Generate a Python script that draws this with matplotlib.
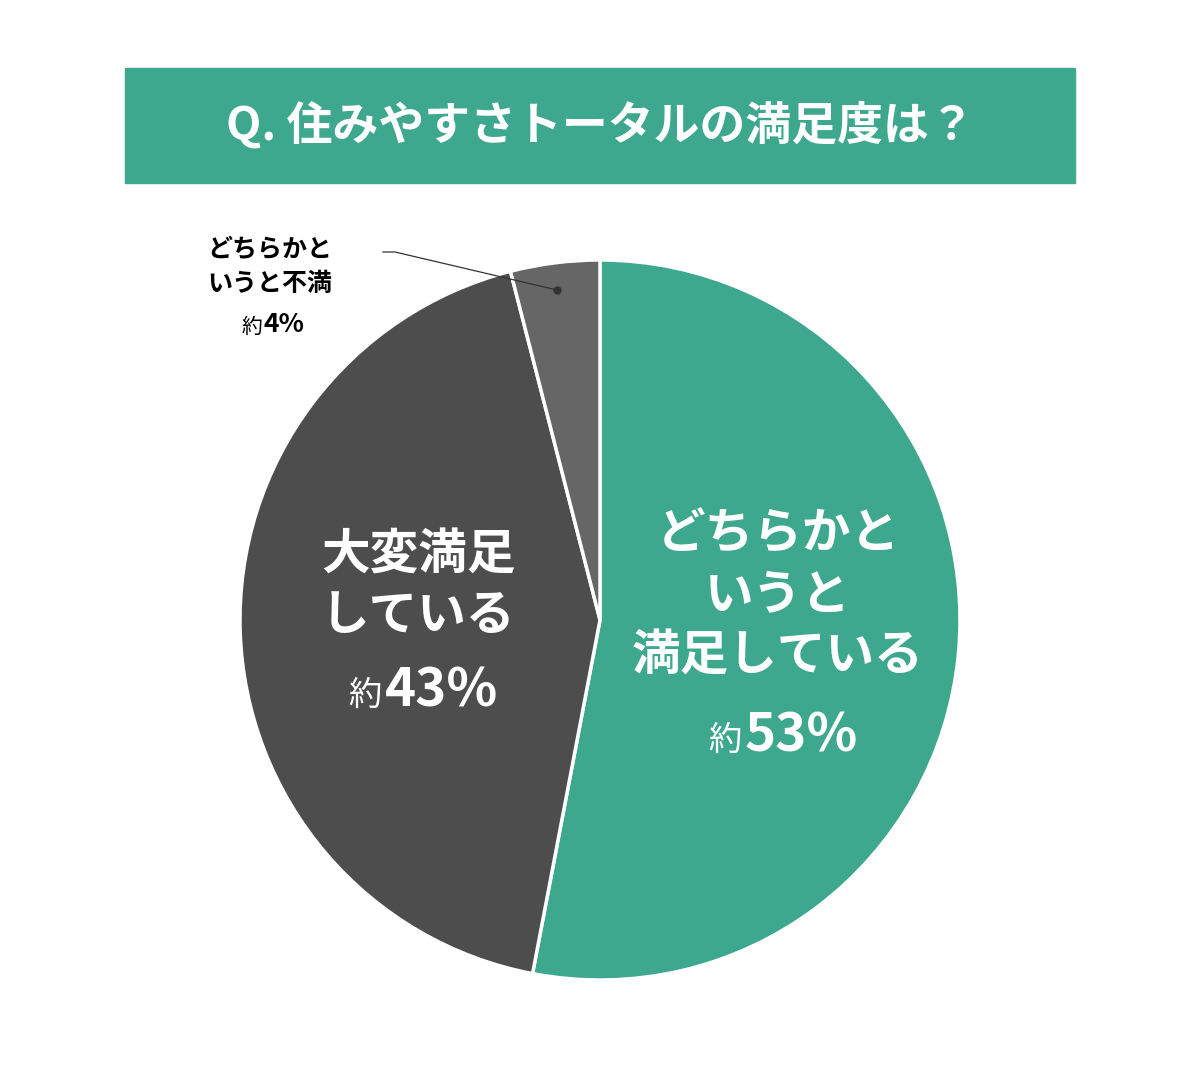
import matplotlib
matplotlib.use("Agg")
import matplotlib.pyplot as plt
from matplotlib.patches import Rectangle

plt.rcParams['font.family'] = ['Noto Sans CJK JP', 'DejaVu Sans']

labels = ["どちらかと\nいうと\n満足している", "大変満足\nしている", "どちらかと\nいうと不満"]
values = [53, 43, 4]
colors = ["#3DA88E", "#4D4D4D", "#666666"]
title = "Q. 住みやすさトータルの満足度は？"

W, H = 1200, 1080
fig = plt.figure(figsize=(12, 10.8), dpi=100)
fig.patch.set_facecolor("white")

def fx(x): return x / W
def fy(y): return 1 - y / H

fig.patches.append(Rectangle((fx(125), fy(183)), fx(1075) - fx(125), (183 - 68) / H,
                             transform=fig.transFigure, color="#3DA88E", zorder=0))
fig.text(fx(600), fy(126), title, ha="center", va="center", color="white",
         fontsize=33, fontweight="bold")

ax = fig.add_axes([fx(240), fy(980), 720 / W, 720 / H])
ax.pie(values, colors=colors, startangle=90, counterclock=False,
       wedgeprops=dict(edgecolor="white", linewidth=2.5))
ax.set_xlim(-1, 1)
ax.set_ylim(-1, 1)
ax.set_aspect("equal")
ax.axis("off")

# big labels
fig.text(fx(778), fy(595), labels[0], ha="center", va="center", color="white",
         fontsize=35, fontweight="bold", linespacing=1.3)
fig.text(fx(742), fy(740), "約", ha="right", va="center", color="white", fontsize=24)
fig.text(fx(745), fy(736), f"{values[0]}%", ha="left", va="center", color="white",
         fontsize=38, fontweight="bold")

fig.text(fx(418), fy(585), labels[1], ha="center", va="center", color="white",
         fontsize=35, fontweight="bold", linespacing=1.3)
fig.text(fx(382), fy(695), "約", ha="right", va="center", color="white", fontsize=24)
fig.text(fx(385), fy(691), f"{values[1]}%", ha="left", va="center", color="white",
         fontsize=38, fontweight="bold")

fig.text(fx(270), fy(267), labels[2], ha="center", va="center", color="black",
         fontsize=18, fontweight="bold", linespacing=1.5)
fig.text(fx(262), fy(327), "約", ha="right", va="center", color="black", fontsize=15)
fig.text(fx(264), fy(325), f"{values[2]}%", ha="left", va="center", color="black",
         fontsize=19, fontweight="bold")

# leader line
fig.add_artist(plt.Line2D([fx(383), fx(395), fx(557)], [fy(252), fy(252), fy(290)],
                          transform=fig.transFigure, color="#333333", lw=0.9))
fig.add_artist(plt.Line2D([fx(557)], [fy(290)], transform=fig.transFigure,
                          marker="o", color="#333333", markersize=5))

fig.savefig("out.png", dpi=100, facecolor="white")
